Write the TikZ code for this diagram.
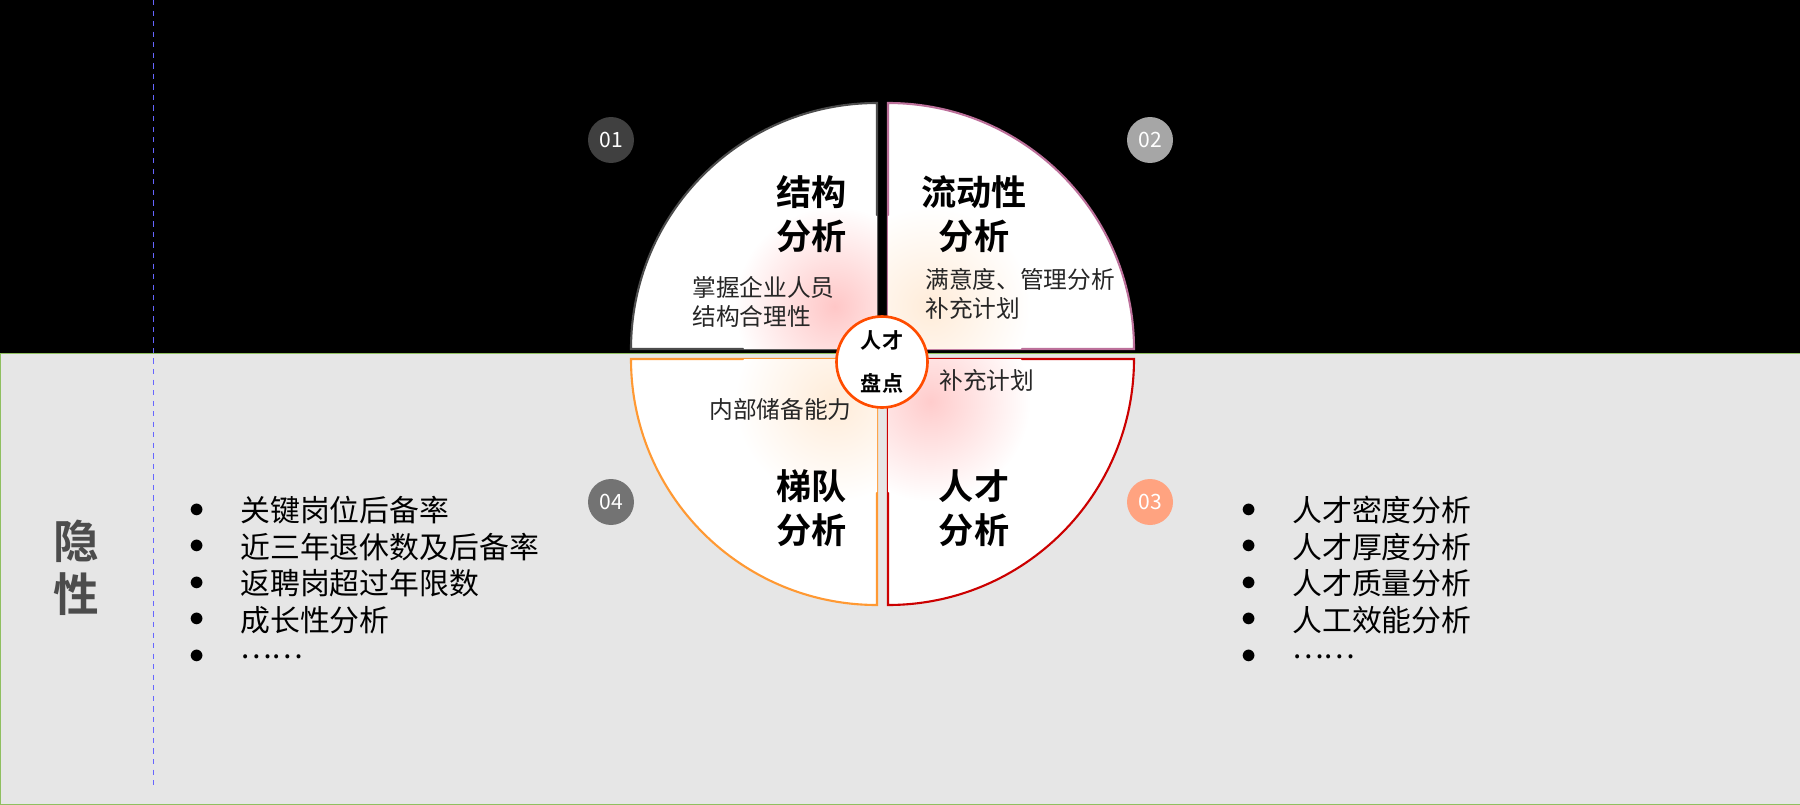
\documentclass[tikz,border=0pt]{standalone}
\usepackage{fontspec}
\setmainfont{Noto Sans CJK SC}[BoldFont={* Bold}]
\usetikzlibrary{positioning}
\definecolor{bandgrey}{HTML}{E6E6E6}
\definecolor{edgegreen}{HTML}{8FBF5F}

\begin{document}
\begin{tikzpicture}[x=0.02cm, y=-0.02cm,
    quad/.style={fill=white, line width=1.2pt},
    badge/.style={circle, minimum size=0.92cm, inner sep=0pt, text=white, font=\fontsize{12}{12}\selectfont},
    title/.style={font=\bfseries\fontsize{20}{25}\selectfont, align=center, inner sep=0pt},
    note/.style={font=\fontsize{13.5}{16.5}\selectfont, inner sep=0pt, text=black!85},
    item/.style={font=\fontsize{17}{20}\selectfont, anchor=west, inner sep=0pt}]

    %Background
    \useasboundingbox (0,0) rectangle (1800,805);
    \fill[black] (0,0) rectangle (1800,353);
    \draw[edgegreen, fill=bandgrey] (0,353) rectangle (1800,804);
    \draw[blue!60, dashed, thin] (153,0) -- (153,786);
    \node[font=\bfseries\fontsize{26}{30}\selectfont, text=black!70, align=center] (hidden) at (76,568) {隐\\性};

    %Quadrants
    \foreach \cx/\cy/\a/\col/\inner in {877/349/180/black!70/red!22, 888/349/270/magenta!60!black!70/orange!15, 888/359/0/red!80!black/red!20, 877/359/90/orange!80/orange!15}{
        \draw[quad, draw=\col] (\cx,\cy) -- ++(\a:246) arc[start angle=\a, end angle=\a+90, radius=246] -- cycle;
        \begin{scope}
            \clip (\cx,\cy) -- ++(\a:245) arc[start angle=\a, end angle=\a+90, radius=245] -- cycle;
            \shade[inner color=\inner, outer color=white] (\cx,\cy) ++(\a+45:60) circle[radius=100];
        \end{scope}
    }

    %Centre
    \node[circle, draw=orange!60!red, line width=1.5pt, fill=white, minimum size=1.76cm, align=center, font=\bfseries\fontsize{12}{24}\selectfont] (core) at (882,362) {人才\\盘点};

    %Quadrant texts
    \node[title, anchor=east, align=right] (structure) at (847,214) {结构\\分析};
    \node[note, anchor=west, align=left] (structure_note) at (692,302) {掌握企业人员\\结构合理性};
    \node[title] (flow) at (974,214) {流动性\\分析};
    \node[note, anchor=west, align=left] (flow_note) at (925,294) {满意度、管理分析\\补充计划};
    \node[note, anchor=west] (talent_note) at (939,380) {补充计划};
    \node[note, anchor=east] (ladder_note) at (852,409) {内部储备能力};
    \node[title, anchor=east, align=right] (ladder) at (847,508) {梯队\\分析};
    \node[title] (talent) at (974,508) {人才\\分析};

    %Badges
    \node[badge, fill=black!75] (b1) at (611,140) {01};
    \node[badge, fill=black!35] (b2) at (1150,140) {02};
    \node[badge, fill=red!45!orange!50] (b3) at (1150,502) {03};
    \node[badge, fill=black!55] (b4) at (611,502) {04};

    %Lists
    \foreach \t [count=\i] in {关键岗位后备率, 近三年退休数及后备率, 返聘岗超过年限数, 成长性分析, ……}{
        \node[item] (left\i) at (240,474+36.5*\i) {\t};
        \node[item, left=20pt of left\i.west] (ldot\i) {$\bullet$};
    }
    \foreach \t [count=\i] in {人才密度分析, 人才厚度分析, 人才质量分析, 人工效能分析, ……}{
        \node[item] (right\i) at (1292,474+36.5*\i) {\t};
        \node[item, left=20pt of right\i.west] (rdot\i) {$\bullet$};
    }
\end{tikzpicture}
\end{document}
